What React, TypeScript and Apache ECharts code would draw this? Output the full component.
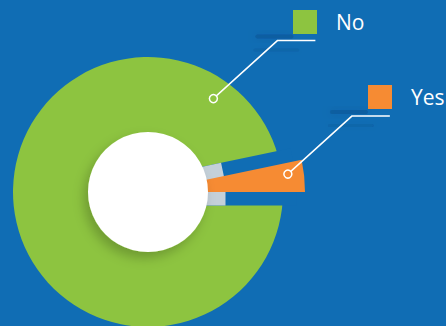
import React, { useEffect, useRef } from "react";
import * as echarts from "echarts";

const categories = ["No", "Yes"];
const values = [96.7, 3.3];
const sliceColors = ["#8dc440", "#f68b33"];

const BG = "#106db4";
const GRAY = "#c4d0d9";
const CENTER: [number, number] = [148, 192];
const GAP = 27;

// callout anchors (polar: radius, angle in degrees, counter-clockwise from east)
const anchors = [
  { r: 114, a: 55 },
  { r: 141, a: 7.3 },
];
const legendPos = [
  { left: 293, top: 10 },
  { left: 368, top: 85 },
];

export default function App() {
  const ref = useRef<HTMLDivElement>(null);
  useEffect(() => {
    document.body.style.margin = "0";
    const chart = echarts.init(ref.current!, null, { renderer: "svg" });

    const greenData = categories.map((name, i) =>
      i === 0
        ? { name, value: values[i], itemStyle: { color: sliceColors[i] } }
        : {
            name,
            value: values[i],
            itemStyle: { color: "rgba(0,0,0,0)", borderColor: BG, borderWidth: GAP, borderJoin: "miter" },
          }
    );
    const grayData = categories.map((name, i) =>
      i === 0
        ? { name, value: values[i], itemStyle: { color: "rgba(0,0,0,0)", borderWidth: 0 } }
        : {
            name,
            value: values[i],
            itemStyle: { color: GRAY, borderColor: GRAY, borderWidth: GAP, borderJoin: "miter" },
          }
    );
    const orangeData = categories.map((name, i) =>
      i === 0
        ? { name, value: values[i], itemStyle: { color: "rgba(0,0,0,0)", borderWidth: 0 } }
        : { name, value: values[i], itemStyle: { color: sliceColors[i] } }
    );

    const common = {
      type: "pie",
      center: CENTER,
      startAngle: 0,
      clockwise: true,
      silent: true,
      label: { show: false },
      labelLine: { show: false },
      emphasis: { disabled: true },
    };

    const graphics: any[] = [];
    anchors.forEach((an) => {
      const rad = (an.a * Math.PI) / 180;
      const ax = CENTER[0] + an.r * Math.cos(rad);
      const ay = CENTER[1] - an.r * Math.sin(rad);
      const dx = 64, dy = -58, cr = 4;
      const len = Math.hypot(dx, dy);
      const sx = ax + (dx / len) * cr, sy = ay + (dy / len) * cr;
      const ex = ax + dx, ey = ay + dy;
      // soft shadow streaks near the elbow
      graphics.push({
        type: "rect",
        z: 9,
        silent: true,
        shape: { x: ex - 22, y: ey - 6, width: 38, height: 4, r: 2 },
        style: { fill: "rgba(0,35,85,0.18)", shadowColor: "rgba(0,30,80,0.55)", shadowBlur: 10 },
      });
      graphics.push({
        type: "rect",
        z: 9,
        silent: true,
        shape: { x: ex - 24, y: ey + 8, width: 46, height: 3, r: 1.5 },
        style: { fill: "rgba(0,35,85,0.1)", shadowColor: "rgba(0,30,80,0.35)", shadowBlur: 8 },
      });
      graphics.push({
        type: "polyline",
        z: 10,
        silent: true,
        shape: { points: [[sx, sy], [ex, ey], [ex + 38, ey]] },
        style: { stroke: "#ffffff", lineWidth: 1.5, fill: null },
      });
      graphics.push({
        type: "circle",
        z: 10,
        silent: true,
        shape: { cx: ax, cy: ay, r: cr },
        style: { fill: "rgba(0,0,0,0)", stroke: "#ffffff", lineWidth: 1.5 },
      });
    });

    chart.setOption({
      animation: false,
      backgroundColor: BG,
      legend: categories.map((name, i) => ({
        data: [{ name, itemStyle: { color: sliceColors[i], borderWidth: 0 } }],
        left: legendPos[i].left,
        top: legendPos[i].top,
        padding: 0,
        icon: "rect",
        itemWidth: 24,
        itemHeight: 24,
        selectedMode: false,
        textStyle: {
          color: "#ffffff",
          fontSize: 21,
          fontFamily: "Open Sans",
          padding: [0, 0, 0, 14],
        },
      })),
      graphic: graphics,
      series: [
        { ...common, name: "gap", z: 1, radius: [40, 135], data: greenData },
        { ...common, name: "ring", z: 2, radius: [60, 64], data: grayData },
        { ...common, name: "answers", z: 3, radius: [40, 157], data: orangeData },
        {
          ...common,
          name: "hole",
          z: 4,
          radius: [0, 60],
          data: [
            {
              value: 1,
              itemStyle: {
                color: "#ffffff",
                shadowColor: "rgba(0,0,0,0.22)",
                shadowBlur: 12,
                shadowOffsetX: -4,
                shadowOffsetY: 6,
              },
            },
          ],
        },
      ],
    });
    return () => chart.dispose();
  }, []);
  return <div ref={ref} style={{ width: 446, height: 326 }} />;
}
